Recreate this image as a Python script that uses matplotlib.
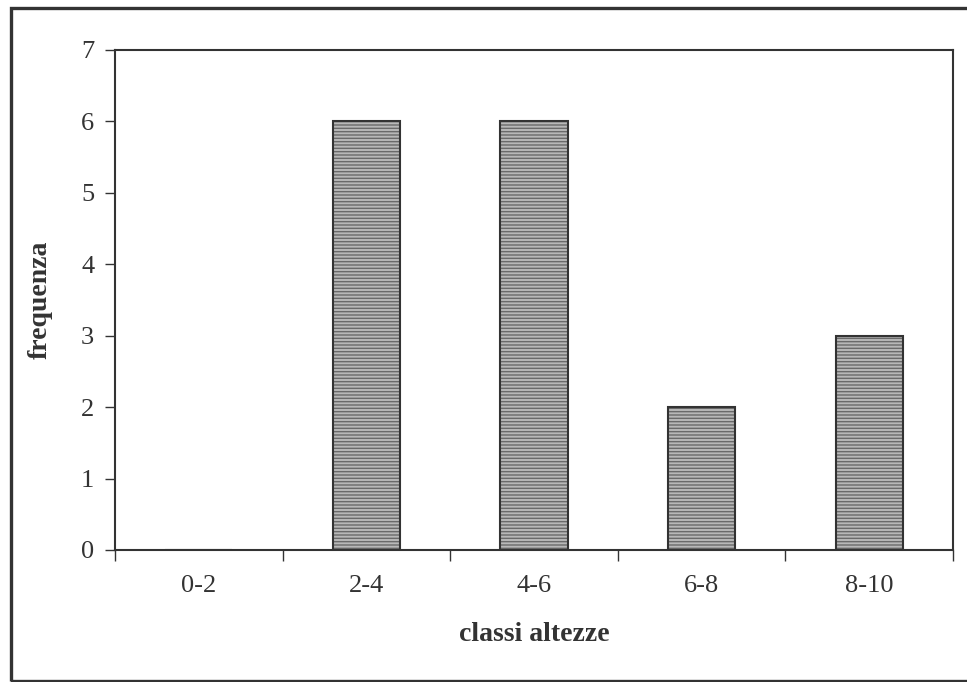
import matplotlib.pyplot as plt
from matplotlib.patches import Rectangle
from matplotlib.ticker import FixedLocator, NullFormatter

# data
classes = ["0-2", "2-4", "4-6", "6-8", "8-10"]
freq = [0, 6, 6, 2, 3]
y_ticks = [0, 1, 2, 3, 4, 5, 6, 7]

plt.rcParams["font.family"] = ["Liberation Serif", "DejaVu Serif"]
plt.rcParams["hatch.linewidth"] = 1.0

ink = "#333333"

fig = plt.figure(figsize=(9.67, 6.82), dpi=100)
ax = fig.add_axes([115 / 967, 132 / 682, 838 / 967, 500 / 682])

# outer chart frame (right side is cut off in the original)
fig.patches.append(Rectangle((10.5 / 967, 1.5 / 682), 1.2, 673 / 682,
                             transform=fig.transFigure, fill=False,
                             edgecolor=ink, linewidth=2.4))

pos = list(range(len(classes)))
# striped fill first, then the dark outline on top
ax.bar(pos, freq, width=0.4, color="#b8b8b8", edgecolor="#6a6a6a",
       linewidth=0, hatch="-----", zorder=2)
ax.bar(pos, freq, width=0.4, fill=False, edgecolor=ink, linewidth=1.5, zorder=3)

ax.set_xlim(-0.5, len(classes) - 0.5)
ax.set_ylim(0, 7)

ax.set_yticks(y_ticks)
ax.tick_params(axis="y", length=7, width=1, color=ink, labelsize=19,
               labelcolor=ink, pad=8)

ax.xaxis.set_major_locator(FixedLocator([p - 0.5 for p in range(len(classes) + 1)]))
ax.xaxis.set_major_formatter(NullFormatter())
ax.xaxis.set_minor_locator(FixedLocator(pos))
ax.set_xticklabels(classes, minor=True)
ax.tick_params(axis="x", which="major", length=8, width=1, color=ink)
ax.tick_params(axis="x", which="minor", length=0, labelsize=19,
               labelcolor=ink, pad=18)

for s in ax.spines.values():
    s.set_color(ink)
    s.set_linewidth(1.5)

ax.set_xlabel("classi altezze", fontsize=20, fontweight="bold", color=ink, labelpad=18)
ax.set_ylabel("frequenza", fontsize=20, fontweight="bold", color=ink, labelpad=20)

fig.savefig("out.png", dpi=100)
